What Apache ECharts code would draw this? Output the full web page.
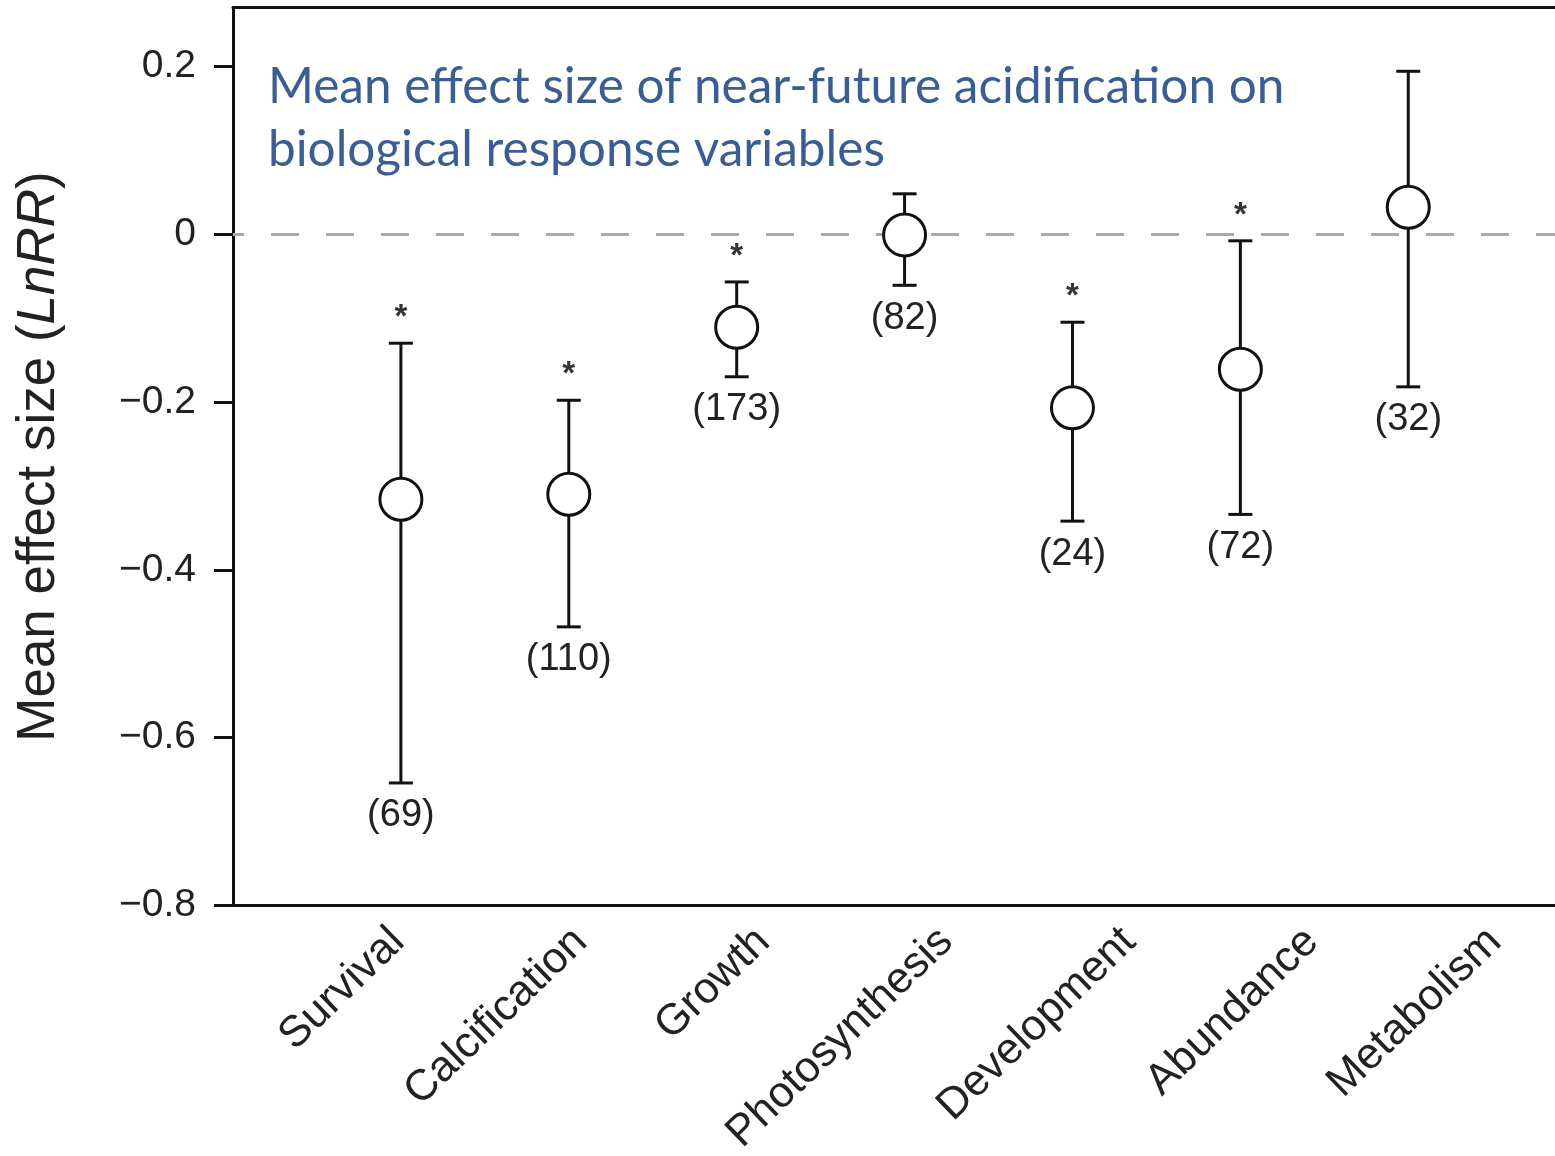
<!DOCTYPE html>
<html>
<head>
<meta charset="utf-8">
<script src="https://cdn.jsdelivr.net/npm/echarts@6/dist/echarts.min.js"></script>
<style>
html,body{margin:0;padding:0;background:#ffffff;}
#chart{width:1555px;height:1156px;}
</style>
</head>
<body>
<div id="chart"></div>
<script>
// ---- data ----
const categories = ['Survival', 'Calcification', 'Growth', 'Photosynthesis', 'Development', 'Abundance', 'Metabolism'];
const meanEffect = [-0.316, -0.310, -0.111, -0.001, -0.207, -0.161, 0.032];
const ciLower = [-0.654, -0.468, -0.170, -0.061, -0.342, -0.334, -0.182];
const ciUpper = [-0.130, -0.198, -0.057, 0.048, -0.105, -0.008, 0.194];
const sampleSizes = [69, 110, 173, 82, 24, 72, 32];
const significant = [true, true, true, false, true, true, false];
const yTicks = [-0.8, -0.6, -0.4, -0.2, 0, 0.2];
const labelSlots = [1, 2, 3, 4, 5, 6, 7];
const titleLines = ['Mean effect size of near-future acidification on', 'biological response variables'];

const chart = echarts.init(document.getElementById('chart'), null, {renderer: 'canvas'});

const errData = categories.map((c, i) => [i + 1, ciLower[i], ciUpper[i], sampleSizes[i], significant[i] ? 1 : 0]);
const meanData = categories.map((c, i) => [i + 1, meanEffect[i]]);

function renderErr(params, api) {
  const x = api.value(0), lo = api.value(1), hi = api.value(2), n = api.value(3), sig = api.value(4);
  const pLo = api.coord([x, lo]);
  const pHi = api.coord([x, hi]);
  const half = 12;
  const ls = {stroke: '#111', lineWidth: 3};
  const children = [
    {type: 'line', shape: {x1: pHi[0], y1: pHi[1], x2: pLo[0], y2: pLo[1]}, style: ls},
    {type: 'line', shape: {x1: pHi[0] - half, y1: pHi[1], x2: pHi[0] + half, y2: pHi[1]}, style: ls},
    {type: 'line', shape: {x1: pLo[0] - half, y1: pLo[1], x2: pLo[0] + half, y2: pLo[1]}, style: ls},
    {type: 'text', style: {text: '(' + n + ')', x: pLo[0], y: pLo[1] + 33, align: 'center', verticalAlign: 'middle',
      fontSize: 38, fontFamily: 'Liberation Sans', fill: '#222'}}
  ];
  if (sig) {
    children.push({type: 'text', style: {text: '*', x: pHi[0], y: pHi[1] - 25, align: 'center', verticalAlign: 'middle',
      fontSize: 33, fontWeight: 'bold', fontFamily: 'Liberation Sans', fill: '#333'}});
  }
  return {type: 'group', children: children};
}

const XMAX = 7.874;
const option = {
  backgroundColor: '#ffffff',
  animation: false,
  title: {
    text: titleLines.join('\n'),
    left: 263,
    top: 51,
    textStyle: {fontFamily: 'Lato', fontSize: 49.5, fontWeight: 'normal', color: '#3a5d93', lineHeight: 63}
  },
  grid: [
    {left: 233, right: 0, top: 7.5, bottom: 250.5, show: false},
    {left: 215, right: 0, top: 905, height: 1, show: false}
  ],
  xAxis: [
    {type: 'value', gridIndex: 0, min: 0, max: XMAX, interval: 1, position: 'bottom',
      axisLine: {show: true, onZero: false, lineStyle: {color: '#111', width: 3}}, axisTick: {show: false}, axisLabel: {show: false}, splitLine: {show: false}},
    {type: 'value', gridIndex: 1, min: 0, max: 7.33, interval: 1,
      axisLine: {show: false, onZero: false}, axisTick: {show: false}, splitLine: {show: false},
      axisLabel: {rotate: 44, margin: 30, fontSize: 43.5, fontFamily: 'Liberation Sans', color: '#222', customValues: labelSlots,
        formatter: function (v) { const k = Math.round(v) - 1; return categories[k] || ''; }}},
    {type: 'value', gridIndex: 0, min: 0, max: XMAX, position: 'top',
      axisLine: {show: true, onZero: false, lineStyle: {color: '#111', width: 3}}, axisTick: {show: false}, axisLabel: {show: false}, splitLine: {show: false}}
  ],
  yAxis: [
    {type: 'value', gridIndex: 0, min: -0.8, max: 0.27, interval: 0.2,
      name: 'Mean effect size ({i|LnRR})', nameLocation: 'middle', nameRotate: 90, nameGap: 167,
      nameTextStyle: {fontSize: 53, fontFamily: 'Liberation Sans', color: '#222',
        rich: {i: {fontSize: 53, fontFamily: 'Liberation Sans', fontStyle: 'italic', color: '#222'}}},
      axisLine: {show: true, onZero: false, lineStyle: {color: '#111', width: 3}},
      axisTick: {show: true, length: 19, lineStyle: {color: '#111', width: 3}, customValues: yTicks},
      axisLabel: {margin: 37, fontSize: 39, fontFamily: 'Liberation Sans', color: '#222', customValues: yTicks,
        formatter: function (v) { if (Math.abs(v) < 1e-9) return '0'; return (v < 0 ? '\u2212' : '') + Math.abs(v).toFixed(1); }},
      splitLine: {show: false}},
    {type: 'value', gridIndex: 1, show: false}
  ],
  series: [
    {
      type: 'custom', xAxisIndex: 0, yAxisIndex: 0, z: 2,
      renderItem: renderErr, data: errData,
      markLine: {
        silent: true, symbol: 'none', label: {show: false}, z: 1,
        lineStyle: {color: '#a9a9a9', width: 3, type: [28, 27], dashOffset: 17},
        data: [{yAxis: 0}]
      }
    },
    {
      type: 'scatter', xAxisIndex: 0, yAxisIndex: 0, z: 5,
      symbol: 'circle', symbolSize: 42, data: meanData,
      itemStyle: {color: '#ffffff', borderColor: '#111', borderWidth: 3, opacity: 1}
    }
  ]
};
chart.setOption(option);
</script>
</body>
</html>
